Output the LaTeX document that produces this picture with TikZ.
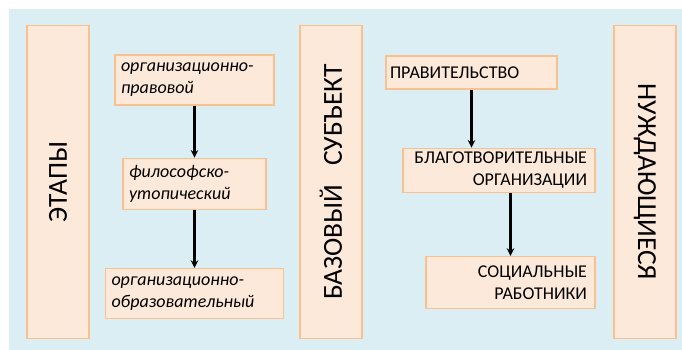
\documentclass[tikz,border=0pt]{standalone}
\usepackage{fontspec}
\setmainfont{Carlito}
\usetikzlibrary{arrows, calc, positioning}
\definecolor{bgblue}{HTML}{DAEEF3}
\definecolor{boxfill}{HTML}{FDE9D9}
\definecolor{boxline}{HTML}{FAC090}
\tikzstyle{column} = [rectangle, line width=1.5pt, draw=boxline, fill=boxfill, minimum width=313pt, minimum height=62pt, font=\fontsize{27.5}{30}\selectfont]
\tikzstyle{block} = [rectangle, line width=1.2pt, draw=boxline, fill=boxfill, inner xsep=6pt, inner ysep=1pt, font=\fontsize{18}{22}\selectfont]
\tikzstyle{arrow} = [line width=2.3pt,->,>=stealth]
\begin{document}
\begin{tikzpicture}[x=1pt, y=-1pt, node distance = 10pt]
		\useasboundingbox (0,0) rectangle (682,350);
		\fill [bgblue] (9,9) rectangle (682,350);
		% columns
		\node (Etapy) [column, rotate=90] at (58,182) {ЭТАПЫ};
		\node (Subject) [column, rotate=90] at (331,182) {БАЗОВЫЙ \ \ СУБЪЕКТ};
		\node (Needy) [column, rotate=-90] at (645,182) {НУЖДАЮЩИЕСЯ};
		% stages
		\node (OrgPravo) [block, text width = 147pt, minimum height = 50pt, align = left] at (194.5,80) {\itshape организационно-\\правовой};
		\node (Filosof) [block, text width = 131pt, minimum height = 51pt, align = left, below = 52pt of OrgPravo] {\itshape философско-\\утопический};
		\node (OrgObraz) [block, text width = 166pt, minimum height = 50pt, align = left, below = 58pt of Filosof] {\itshape организационно-\\образовательный};
		% subjects
		\node (Pravitelstvo) [block, inner xsep=4pt, text width = 163pt, minimum height = 33pt, align = left] at (471.5,72.5) {ПРАВИТЕЛЬСТВО};
		\node (Blago) [block, inner xsep=8pt, text width = 176pt, minimum height = 44pt, align = right, below = 58pt of Pravitelstvo.south east, anchor=north east, xshift=38pt] {БЛАГОТВОРИТЕЛЬНЫЕ\\ОРГАНИЗАЦИИ};
		\node (Social) [block, inner xsep=8pt, text width = 153pt, minimum height = 52pt, align = right, below = 63pt of Blago.south east, anchor=north east] {СОЦИАЛЬНЫЕ\\РАБОТНИКИ};
		\draw [arrow] (OrgPravo) -- (Filosof);
		\draw [arrow] (Filosof) -- (OrgObraz);
		\draw [arrow] (Pravitelstvo) -- (Pravitelstvo |- Blago.north);
		\draw [arrow] (Blago.south -| Social) -- (Social);
\end{tikzpicture}
\end{document}
